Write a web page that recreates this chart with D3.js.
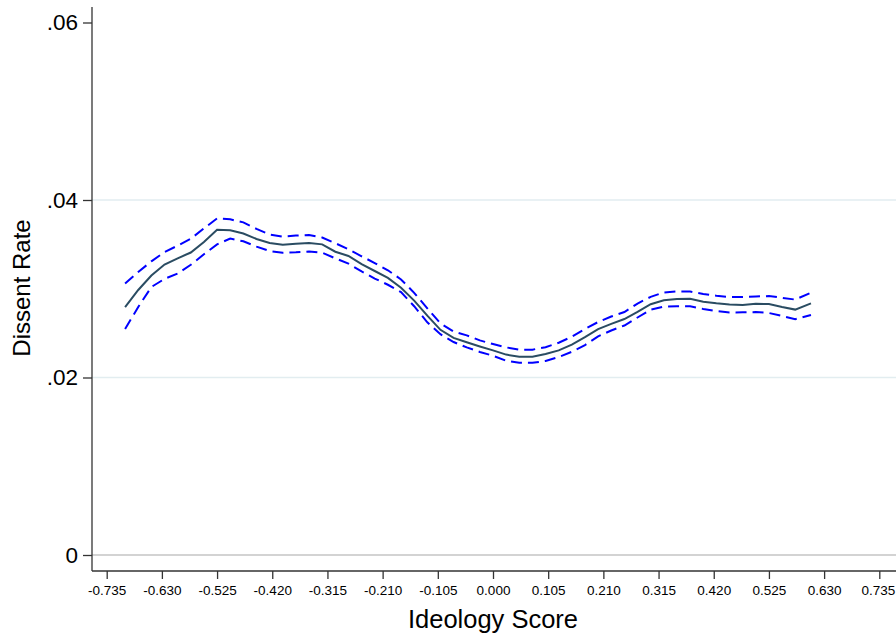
<!DOCTYPE html>
<html>
<head>
<meta charset="utf-8">
<script src="https://cdn.jsdelivr.net/npm/d3@7"></script>
<style>
  body { margin: 0; background: #fff; }
  svg text { font-family: "Liberation Sans", Arial, Helvetica, sans-serif; fill: #000; }
</style>
</head>
<body>
<div id="chart-area"></div>
<script>
// ideology score grid (x) and the three smoothed series
const scores = [
  -0.700, -0.675, -0.650, -0.625, -0.600, -0.575, -0.550, -0.525, -0.500, -0.475,
  -0.450, -0.425, -0.400, -0.375, -0.350, -0.325, -0.300, -0.275, -0.250, -0.225,
  -0.200, -0.175, -0.150, -0.125, -0.100, -0.075, -0.050, -0.025, 0.000, 0.025,
  0.050, 0.075, 0.100, 0.125, 0.150, 0.175, 0.200, 0.225, 0.250, 0.275,
  0.300, 0.325, 0.350, 0.375, 0.400, 0.425, 0.450, 0.475, 0.500, 0.525,
  0.550, 0.575, 0.605
]
const dissent = [
  .02794, .02986, .03149, .03273, .03343, .03408, .03527, .03665, .03660, .03623,
  .03561, .03515, .03497, .03508, .03515, .03500, .03417, .03369, .03277, .03200,
  .03123, .03011, .02866, .02697, .02537, .02447, .02397, .02350, .02306, .02258,
  .02234, .02234, .02264, .02306, .02370, .02454, .02545, .02604, .02659, .02739,
  .02826, .02871, .02885, .02887, .02853, .02836, .02823, .02817, .02830, .02828,
  .02794, .02765, .02836
]
const upperCI = [
  .03059, .03189, .03309, .03414, .03486, .03563, .03680, .03792, .03782, .03748,
  .03674, .03611, .03588, .03599, .03606, .03577, .03513, .03446, .03366, .03290,
  .03208, .03105, .02954, .02780, .02610, .02518, .02475, .02418, .02377, .02339,
  .02314, .02314, .02341, .02392, .02459, .02548, .02625, .02687, .02738, .02833,
  .02909, .02958, .02970, .02968, .02941, .02921, .02907, .02907, .02913, .02918,
  .02898, .02878, .02955
]
const lowerCI = [
  .02546, .02794, .03020, .03111, .03171, .03270, .03389, .03500, .03565, .03535,
  .03475, .03425, .03406, .03411, .03420, .03406, .03343, .03283, .03195, .03115,
  .03045, .02962, .02803, .02622, .02488, .02400, .02339, .02288, .02245, .02188,
  .02165, .02165, .02187, .02231, .02290, .02365, .02464, .02530, .02586, .02676,
  .02764, .02799, .02802, .02802, .02773, .02748, .02732, .02734, .02737, .02727,
  .02694, .02657, .02704
]

const xTicks = [-0.735, -0.630, -0.525, -0.420, -0.315, -0.210, -0.105, 0.000,
  0.105, 0.210, 0.315, 0.420, 0.525, 0.630, 0.735]
const yTicks = [0, 0.02, 0.04, 0.06]
const yGrid = [0.02, 0.04]

const WIDTH = 896
const HEIGHT = 633
const AXIS_X = 92     // left axis position
const AXIS_Y = 571    // bottom axis position

const svg = d3.select("#chart-area").append("svg")
  .attr("width", WIDTH)
  .attr("height", HEIGHT)

// scales
const x = d3.scaleLinear().domain([-0.735, 0.735]).range([106.7, 879.3])
const y = d3.scaleLinear().domain([0, 0.06]).range([555, 22.5])

// gridlines
svg.append("g").selectAll("line")
  .data(yGrid)
  .enter().append("line")
    .attr("x1", AXIS_X)
    .attr("x2", WIDTH)
    .attr("y1", d => y(d))
    .attr("y2", d => y(d))
    .attr("stroke", "#e2edf0")
    .attr("stroke-width", 1.5)

// zero line
svg.append("line")
  .attr("x1", AXIS_X)
  .attr("x2", WIDTH)
  .attr("y1", y(0))
  .attr("y2", y(0))
  .attr("stroke", "#c4c4c4")
  .attr("stroke-width", 1.5)

// axes
const yAxis = svg.append("g")
  .attr("transform", `translate(${AXIS_X}, 0)`)
  .call(d3.axisLeft(y)
    .tickValues(yTicks)
    .tickSize(9)
    .tickPadding(5)
    .tickFormat(d => d === 0 ? "0" : d.toFixed(2).replace(/^0/, "")))
yAxis.select(".domain").attr("d", `M0,7V${AXIS_Y}`)
yAxis.selectAll("text").attr("font-size", "22.5px")

const xAxis = svg.append("g")
  .attr("transform", `translate(0, ${AXIS_Y})`)
  .call(d3.axisBottom(x)
    .tickValues(xTicks)
    .tickSize(8)
    .tickPadding(6)
    .tickFormat(d => d.toFixed(3)))
xAxis.select(".domain").attr("d", `M${AXIS_X},0H${WIDTH}`)
xAxis.selectAll("text").attr("font-size", "13.5px")
// last label sits right at the edge, keep it inside
xAxis.selectAll(".tick text").filter(d => d === 0.735).attr("dx", "-1.5")

svg.selectAll(".domain, .tick line")
  .attr("stroke", "#333")
  .attr("stroke-width", 1.3)

// lines
const series = scores.map((s, i) => ({ s, mid: dissent[i], hi: upperCI[i], lo: lowerCI[i] }))

const ciLine = key => d3.line()
  .x(d => x(d.s))
  .y(d => y(d[key]))

svg.append("path")
  .attr("d", ciLine("hi")(series))
  .attr("fill", "none")
  .attr("stroke", "#0000ff")
  .attr("stroke-width", 2)
  .attr("stroke-dasharray", "11,6")

svg.append("path")
  .attr("d", ciLine("lo")(series))
  .attr("fill", "none")
  .attr("stroke", "#0000ff")
  .attr("stroke-width", 2)
  .attr("stroke-dasharray", "11,6")

svg.append("path")
  .attr("d", ciLine("mid")(series))
  .attr("fill", "none")
  .attr("stroke", "#2a4c62")
  .attr("stroke-width", 2)

// axis labels
svg.append("text")
  .attr("x", 493)
  .attr("y", 628)
  .attr("font-size", "25.5px")
  .attr("text-anchor", "middle")
  .text("Ideology Score")

svg.append("text")
  .attr("transform", "rotate(-90)")
  .attr("x", -288)
  .attr("y", 30)
  .attr("font-size", "24px")
  .attr("text-anchor", "middle")
  .text("Dissent Rate")
</script>
</body>
</html>
